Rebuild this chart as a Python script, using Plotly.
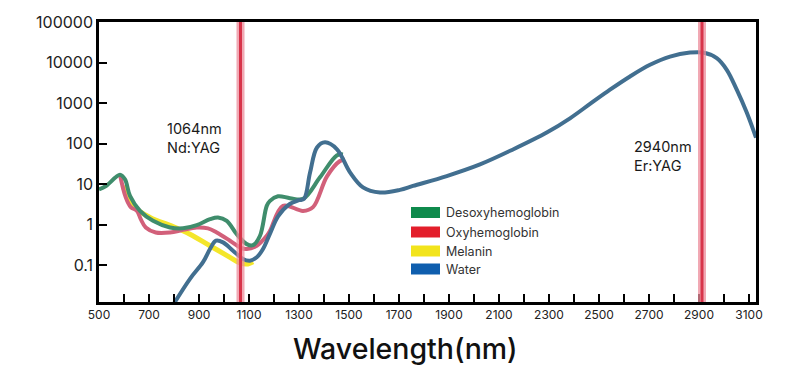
import plotly.graph_objects as go

# ---------------- data ----------------
wl_deoxy = [500, 528, 584, 604, 624, 664, 716, 784, 836, 891, 944, 976, 1011, 1051, 1091, 1116, 1144, 1171, 1184, 1216, 1264, 1316, 1384, 1451, 1476]
deoxy = [7.4, 9.0, 17.0, 13.1, 5.1, 2.18, 1.24, 0.85, 0.81, 0.97, 1.36, 1.50, 1.24, 0.58, 0.33, 0.31, 0.53, 2.9, 3.85, 5.0, 4.5, 4.3, 14.7, 51, 54]

wl_oxy = [584, 607, 627, 652, 667, 687, 727, 784, 836, 891, 936, 971, 1024, 1064, 1091, 1131, 1171, 1184, 1236, 1316, 1356, 1412, 1464, 1484]
oxy = [17.0, 4.7, 2.7, 2.18, 1.36, 0.85, 0.64, 0.64, 0.74, 0.85, 0.81, 0.64, 0.40, 0.275, 0.25, 0.30, 0.53, 0.70, 2.9, 2.18, 2.7, 15.5, 37, 40]

wl_mel = [596, 636, 704, 796, 864, 944, 1024, 1064, 1096, 1116]
mel = [9.0, 2.9, 1.5, 0.9, 0.58, 0.30, 0.156, 0.113, 0.107, 0.12]

wl_water = [790, 864, 916, 944, 968, 996, 1036, 1076, 1104, 1131, 1156, 1184, 1216, 1256, 1300, 1320,
            1344, 1372, 1404, 1452, 1504, 1556, 1624, 1704, 1756, 1891, 2024, 2156, 2291, 2384,
            2464, 2544, 2624, 2704, 2784, 2864, 2916, 2971, 3011, 3051, 3091, 3128]
water = [0.009, 0.046, 0.118, 0.25, 0.40, 0.365, 0.227, 0.142, 0.129, 0.156, 0.25, 0.6, 1.6, 3.0, 4.0, 4.3,
         19, 80, 107, 72, 19.5, 8.3, 6.2, 7.2, 9.0, 15.8, 30.6, 71.6, 187, 420,
         950, 2135, 4530, 8780, 14000, 17600, 17600, 12800, 6610, 2135, 581, 140]

laser_x = [1066, 2912]
laser_labels = ["1064nm<br>Nd:YAG", "2940nm<br>Er:YAG"]

legend_names = ["Desoxyhemoglobin", "Oxyhemoglobin", "Melanin", "Water"]
legend_colors = ["#0e8a4c", "#e31e2b", "#f2e41c", "#0f5eae"]

x_tickvals = list(range(500, 3101, 100))
x_ticktext = [str(v) if (v - 500) % 200 == 0 else "" for v in x_tickvals]
y_tickvals = [0.1, 1, 10, 100, 1000, 10000, 100000]
y_ticktext = ["0.1", "1", "10", "100", "1000", "10000", "100000"]

# ---------------- layout geometry ----------------
# page body has an 8px margin, so the figure is offset by 8px
OFF = 8
W, H = 800 - OFF, 378 - OFF
PL, PR, PT, PB = 99, 756, 22, 302   # plot area in screen pixels
L, T = PL - OFF, PT - OFF
R = W - (PR - OFF)
B = H - (PB - OFF)
PW, PH = PR - PL, PB - PT


def px(xp):
    return (xp - PL) / PW


def py(yp):
    return (PB - yp) / PH


FONT = "Inter, Liberation Sans, Arial, sans-serif"

fig = go.Figure()
fig.add_trace(go.Scatter(x=wl_mel, y=mel, mode="lines", line=dict(color="#f4e62a", width=5, shape="spline"),
                         name="Melanin", showlegend=False))
fig.add_trace(go.Scatter(x=wl_oxy, y=oxy, mode="lines", line=dict(color="#d2607a", width=4, shape="spline"),
                         name="Oxyhemoglobin", showlegend=False))
fig.add_trace(go.Scatter(x=wl_deoxy, y=deoxy, mode="lines", line=dict(color="#3f8d6c", width=4, shape="spline"),
                         name="Desoxyhemoglobin", showlegend=False))
fig.add_trace(go.Scatter(x=wl_water, y=water, mode="lines", line=dict(color="#426f90", width=4, shape="spline"),
                         name="Water", showlegend=False))

shapes = []
for lx in laser_x:
    shapes.append(dict(type="line", xref="x", yref="paper", x0=lx, x1=lx, y0=0, y1=1,
                       line=dict(color="rgba(236,140,155,0.75)", width=8), layer="above"))
    shapes.append(dict(type="line", xref="x", yref="paper", x0=lx, x1=lx, y0=0, y1=1,
                       line=dict(color="#d8344a", width=3), layer="above"))

annotations = []
lab_pos = [(165, 138), (632, 156)]
for (lx, yc), txt in zip(lab_pos, laser_labels):
    annotations.append(dict(xref="paper", yref="paper", x=px(lx), y=py(yc), text=txt, showarrow=False,
                            xanchor="left", yanchor="middle", align="left",
                            font=dict(family=FONT, size=14.5, color="#1a1a1a")))

# custom legend
leg_y = [212.5, 232, 251, 269]
for yc, name, col in zip(leg_y, legend_names, legend_colors):
    shapes.append(dict(type="rect", xref="paper", yref="paper", x0=px(411), x1=px(440),
                       y0=py(yc + 5.5), y1=py(yc - 5.5), fillcolor=col, line=dict(width=0), layer="above"))
    annotations.append(dict(xref="paper", yref="paper", x=px(444), y=py(yc), text=name, showarrow=False,
                            xanchor="left", yanchor="middle", font=dict(family=FONT, size=12.5, color="#333333")))

# axis title
annotations.append(dict(xref="paper", yref="paper", x=px(405), y=py(348), text="Wavelength(nm)", showarrow=False,
                        xanchor="center", yanchor="middle",
                        font=dict(family=FONT, size=28.5, color="#111111", weight=500)))

fig.update_layout(
    width=W, height=H,
    margin=dict(l=L, r=R, t=T, b=B, autoexpand=False),
    paper_bgcolor="white", plot_bgcolor="white",
    shapes=shapes, annotations=annotations,
    showlegend=False,
    xaxis=dict(range=[500, 3128], tickvals=x_tickvals, ticktext=x_ticktext, ticks="inside", ticklen=8,
               tickwidth=1.5, tickcolor="black", showline=True, linecolor="black", linewidth=2.5, mirror=True,
               showgrid=False, zeroline=False, tickfont=dict(family=FONT, size=12, color="#222222")),
    yaxis=dict(type="log", range=[-1.91, 5], tickvals=y_tickvals, ticktext=y_ticktext, ticks="inside", ticklen=8,
               tickwidth=1.5, tickcolor="black", showline=True, linecolor="black", linewidth=2.5, mirror=True,
               showgrid=False, zeroline=False, tickfont=dict(family=FONT, size=16, color="#222222")),
)

fig.write_html("out.html")
